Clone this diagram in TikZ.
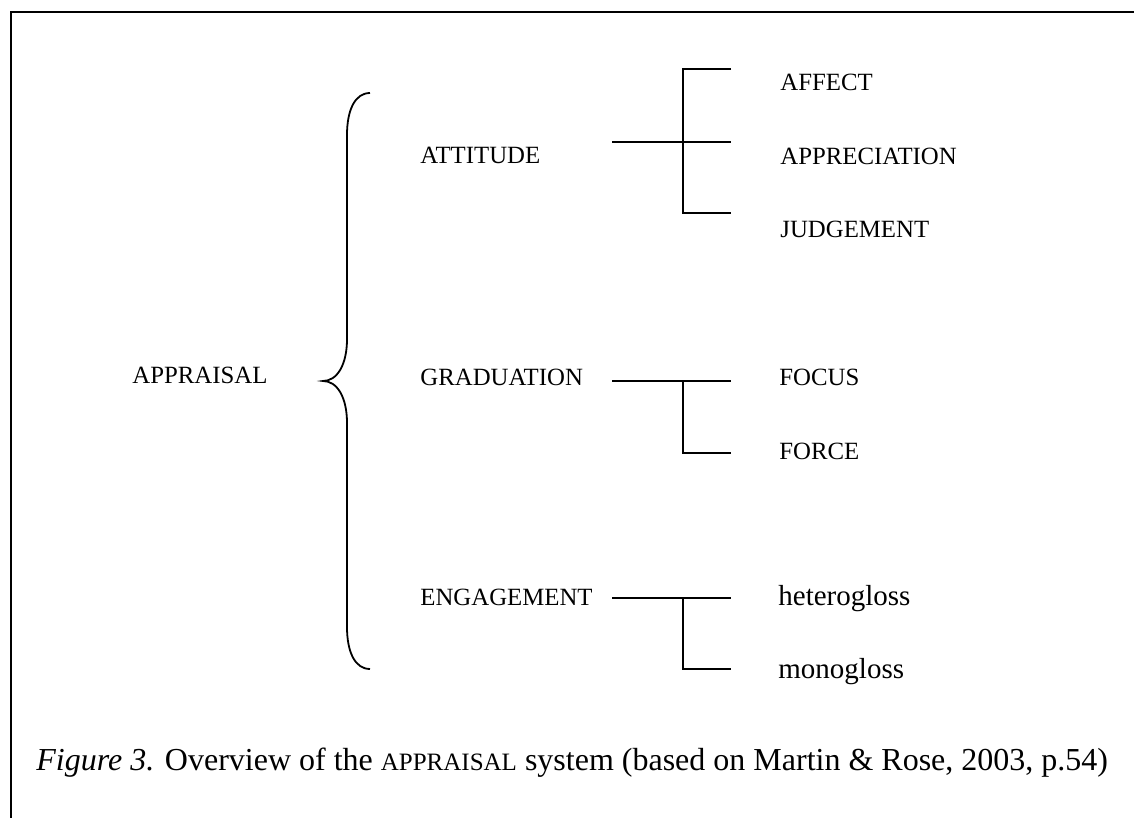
\documentclass[tikz,border=0pt]{standalone}
\usepackage{fontspec}
\setmainfont{Liberation Serif}
\usetikzlibrary{positioning}

\begin{document}
\begin{tikzpicture}[x=0.5pt, y=-0.5pt,
    lbl/.style={anchor=base west, inner sep=0pt, font=\fontsize{12.4}{14}\selectfont},
    gloss/.style={anchor=base west, inner sep=0pt, font=\fontsize{14.5}{17}\selectfont},
    link/.style={line width=0.9pt}]

  \useasboundingbox (0,0) rectangle (1134,818);

  % ---- frame (only top and left edges show) ----
  \draw[line width=1.25pt] (1134,12) -- (11,12) -- (11,818);

  % ---- system names ----
  \node[lbl] (appraisal)  at (132,383)   {APPRAISAL};
  \node[lbl] (attitude)   at (420,164)   {ATTITUDE};
  \node[lbl] (graduation) at (420,385)   {GRADUATION};
  \node[lbl] (engagement) at (420,605.7) {ENGAGEMENT};

  % ---- options ----
  \node[lbl] (affect)       at (780,91)    {AFFECT};
  \node[lbl] (appreciation) at (780,164.3) {APPRECIATION};
  \node[lbl] (judgement)    at (780,237)   {JUDGEMENT};
  \node[lbl] (focus)        at (779,385)   {FOCUS};
  \node[lbl] (force)        at (779,459)   {FORCE};
  \node[gloss] (hetero)     at (778,605)   {heterogloss};
  \node[gloss] (mono)       at (778,678)   {monogloss};

  % ---- brace: top end, tip, bottom end ----
  \coordinate (br-top) at (370,93);
  \coordinate (br-tip) at (323,381);
  \coordinate (br-bot) at (370,669);
  \draw[link] (br-top) .. controls (355,93) and (347,110) .. (347,135)
    -- (347,339) .. controls (347,365) and (337,381) .. (br-tip)
    .. controls (337,381) and (347,397) .. (347,423)
    -- (347,627) .. controls (347,652) and (355,669) .. (br-bot);

  % ---- forks: entry point, fork point, branch ends ----
  \coordinate (att-in)   at (612,141.7);
  \coordinate (att-fork) at (683,141.7);
  \coordinate (aff-end)  at (731,69.3);
  \coordinate (app-end)  at (731,141.7);
  \coordinate (jud-end)  at (731,213.3);
  \draw[link] (att-in) -- (app-end);
  \draw[link] (aff-end) -| (att-fork) |- (jud-end);

  \coordinate (gra-in)   at (612,381);
  \coordinate (gra-fork) at (683,381);
  \coordinate (foc-end)  at (731,381);
  \coordinate (for-end)  at (731,452.7);
  \draw[link] (gra-in) -- (foc-end);
  \draw[link] (gra-fork) |- (for-end);

  \coordinate (eng-in)   at (612,597.7);
  \coordinate (eng-fork) at (683,597.7);
  \coordinate (het-end)  at (731,597.7);
  \coordinate (mon-end)  at (731,669);
  \draw[link] (eng-in) -- (het-end);
  \draw[link] (eng-fork) |- (mon-end);

  % ---- caption ----
  \node[anchor=base west, inner sep=0pt, font=\fontsize{16}{19}\selectfont] (caption) at (36,770)
    {\textit{Figure 3.} Overview of the {\fontsize{12.5}{15}\selectfont APPRAISAL} system (based on Martin \& Rose, 2003, p.54)};

\end{tikzpicture}
\end{document}
